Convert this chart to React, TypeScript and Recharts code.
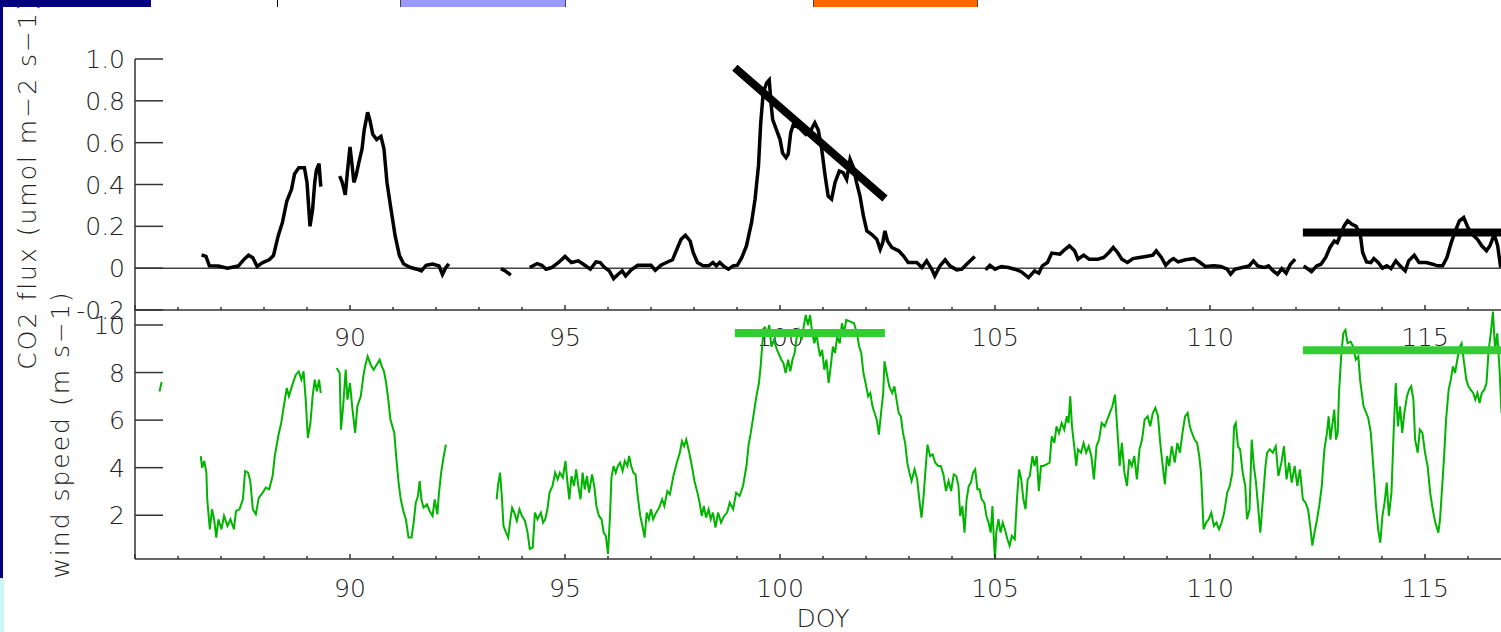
import { LineChart, Line, XAxis, YAxis, ReferenceLine, Label } from "recharts";

// CO2 flux (umol m-2 s-1) vs DOY, null = data gap
const co2Doy = [
  86.55, 86.65, 86.73, 86.94, 87.15, 87.4, 87.54, 87.64, 87.74, 87.84, 87.97, 88.12, 88.22, 88.33,
  88.43, 88.53, 88.64, 88.71, 88.81, 88.94, 89.0, 89.07, 89.13, 89.18, 89.22, 89.28, 89.32,
  89.5,
  89.76, 89.82, 89.89, 89.94, 90.0, 90.05, 90.09, 90.14, 90.2, 90.28, 90.33, 90.41, 90.46, 90.53,
  90.62, 90.72, 90.79, 90.86, 90.94, 91.05, 91.15, 91.25, 91.41, 91.56, 91.66, 91.77, 91.92, 92.07,
  92.15, 92.23, 92.3,
  93.0,
  93.51, 93.61, 93.74,
  94.0,
  94.18, 94.28, 94.35, 94.46, 94.56, 94.69, 94.85, 95.0, 95.15, 95.31, 95.46, 95.59, 95.72, 95.82,
  95.92, 96.03, 96.13, 96.23, 96.33, 96.41, 96.54, 96.69, 96.85, 97.0, 97.1, 97.23, 97.36, 97.5,
  97.6, 97.7, 97.8, 97.91, 97.98, 98.08, 98.21, 98.34, 98.44, 98.52, 98.6, 98.7, 98.8, 98.91,
  99.01, 99.11, 99.22, 99.34, 99.42, 99.5, 99.55, 99.61, 99.69, 99.75, 99.79, 99.83, 99.92, 100.0,
  100.06, 100.14, 100.19, 100.25, 100.31, 100.45, 100.6, 100.72, 100.81, 100.89, 100.97, 101.05,
  101.12, 101.2, 101.28, 101.38, 101.47, 101.55, 101.63, 101.71, 101.78, 101.86, 101.94, 102.02,
  102.13, 102.25, 102.33, 102.39, 102.44, 102.5, 102.6, 102.76, 102.87, 102.98, 103.18, 103.3,
  103.41, 103.53, 103.6, 103.72, 103.84, 103.95, 104.11, 104.23, 104.34, 104.53,
  104.65,
  104.78, 104.88, 105.0, 105.15, 105.31, 105.46, 105.61, 105.78, 105.92, 106.02, 106.1, 106.22,
  106.32, 106.51, 106.63, 106.73, 106.85, 106.93, 107.06, 107.19, 107.39, 107.53, 107.65, 107.75,
  107.85, 107.95, 108.08, 108.21, 108.36, 108.51, 108.67, 108.75, 108.87, 108.97, 109.07, 109.15,
  109.26, 109.43, 109.63, 109.77, 109.89, 110.09, 110.25, 110.4, 110.48, 110.58, 110.75, 110.91,
  111.01, 111.11, 111.26, 111.36, 111.47, 111.57, 111.67, 111.77, 111.87, 111.98,
  112.08,
  112.18, 112.28, 112.36, 112.48, 112.58, 112.69, 112.79, 112.89, 112.96, 113.04, 113.12, 113.2,
  113.3, 113.4, 113.5, 113.55, 113.64, 113.74, 113.81, 113.91, 114.01, 114.11, 114.21, 114.32,
  114.42, 114.54, 114.62, 114.75, 114.86, 115.03, 115.18, 115.29, 115.41, 115.51, 115.61, 115.72,
  115.8, 115.9, 116.0, 116.1, 116.22, 116.32, 116.43, 116.51, 116.61, 116.69, 116.76,
];
const co2Flux = [
  0.064, 0.056, 0.011, 0.01, 0.0, 0.01, 0.043, 0.062, 0.05, 0.008, 0.027, 0.04, 0.06, 0.154,
  0.22, 0.32, 0.377, 0.45, 0.48, 0.48, 0.41, 0.2, 0.28, 0.41, 0.47, 0.5, 0.39,
  null,
  0.44, 0.41, 0.35, 0.46, 0.58, 0.49, 0.41, 0.44, 0.5, 0.57, 0.66, 0.745, 0.71, 0.64,
  0.615, 0.63, 0.57, 0.41, 0.3, 0.154, 0.06, 0.02, 0.003, -0.005, -0.013, 0.014, 0.02, 0.011,
  -0.03, 0.003, 0.02,
  null,
  -0.002, -0.013, -0.033,
  null,
  0.003, 0.014, 0.022, 0.014, -0.005, 0.003, 0.027, 0.056, 0.027, 0.035, 0.014, -0.005, 0.03, 0.027,
  0.003, -0.013, -0.05, -0.03, -0.013, -0.037, -0.008, 0.014, 0.014, 0.014, -0.01, 0.014, 0.027, 0.04,
  0.09, 0.138, 0.157, 0.13, 0.075, 0.027, 0.011, 0.011, 0.027, 0.011, 0.027, 0.008, -0.005, 0.011,
  0.014, 0.05, 0.106, 0.22, 0.33, 0.49, 0.69, 0.84, 0.886, 0.9, 0.79, 0.71, 0.66, 0.616,
  0.55, 0.528, 0.545, 0.648, 0.687, 0.67, 0.64, 0.66, 0.695, 0.66, 0.57, 0.44,
  0.345, 0.33, 0.41, 0.464, 0.457, 0.425, 0.52, 0.48, 0.41, 0.345, 0.25, 0.178,
  0.162, 0.138, 0.09, 0.123, 0.178, 0.13, 0.099, 0.083, 0.059, 0.027, 0.027, 0.003,
  0.035, -0.005, -0.037, 0.011, 0.04, 0.011, -0.008, -0.005, 0.019, 0.056,
  null,
  -0.008, 0.014, -0.005, 0.008, 0.003, -0.005, -0.017, -0.045, -0.013, -0.024, 0.011, 0.027,
  0.072, 0.067, 0.09, 0.107, 0.083, 0.043, 0.062, 0.043, 0.043, 0.051, 0.075, 0.099,
  0.075, 0.043, 0.027, 0.046, 0.051, 0.056, 0.062, 0.083, 0.051, 0.014, 0.035, 0.046,
  0.03, 0.04, 0.046, 0.027, 0.008, 0.011, 0.008, -0.005, -0.029, -0.005, 0.003, 0.011,
  0.035, 0.011, 0.003, 0.011, -0.013, -0.029, -0.002, -0.024, 0.019, 0.043,
  null,
  0.011, -0.005, -0.017, 0.011, 0.019, 0.051, 0.099, 0.13, 0.122, 0.162, 0.202, 0.226,
  0.21, 0.2, 0.154, 0.075, 0.03, 0.027, 0.046, 0.027, 0.0, 0.011, -0.002, 0.035,
  0.011, -0.013, 0.035, 0.062, 0.027, 0.027, 0.019, 0.011, 0.011, 0.051, 0.122, 0.186,
  0.226, 0.242, 0.194, 0.162, 0.138, 0.107, 0.083, 0.107, 0.162, 0.107, 0.003,
];

// wind speed (m s-1) vs DOY, null = data gap
const windDoy = [
  85.57, 85.62,
  86.0,
  86.53, 86.56, 86.61, 86.66, 86.68, 86.74, 86.79, 86.84, 86.89, 86.94, 87.01, 87.07, 87.15, 87.22,
  87.3, 87.35, 87.43, 87.51, 87.56, 87.63, 87.68, 87.74, 87.81, 87.88, 87.97, 88.04, 88.12, 88.2,
  88.25, 88.33, 88.4, 88.46, 88.53, 88.58, 88.66, 88.74, 88.81, 88.87, 88.92, 88.97, 89.02, 89.08,
  89.13, 89.18, 89.23, 89.28, 89.32,
  89.5,
  89.69, 89.76, 89.79, 89.84, 89.9, 89.94, 90.0, 90.05, 90.12, 90.17, 90.25, 90.31, 90.35, 90.41,
  90.48, 90.55, 90.62, 90.69, 90.74, 90.79, 90.84, 90.89, 90.94, 91.03, 91.08, 91.13, 91.18, 91.25,
  91.3, 91.36, 91.43, 91.48, 91.53, 91.58, 91.62, 91.66, 91.71, 91.79, 91.85, 91.92, 91.97, 92.03,
  92.07, 92.12, 92.18, 92.23,
  92.8,
  93.41, 93.44, 93.49, 93.53, 93.57, 93.63, 93.68, 93.72, 93.77, 93.82, 93.88, 93.94, 94.0, 94.07,
  94.13, 94.18, 94.25, 94.3, 94.36, 94.44, 94.49, 94.54, 94.59, 94.64, 94.71, 94.77, 94.83, 94.88,
  94.95, 95.01, 95.05, 95.1, 95.15, 95.21, 95.26, 95.31, 95.36, 95.41, 95.46, 95.51, 95.56, 95.63,
  95.68, 95.73, 95.79, 95.85, 95.9, 95.95, 96.0, 96.05, 96.08, 96.13, 96.18, 96.23, 96.28, 96.34,
  96.39, 96.45, 96.49, 96.54, 96.59, 96.64, 96.69, 96.75, 96.8, 96.85, 96.9, 96.95, 97.0, 97.05,
  97.1, 97.19, 97.26, 97.31, 97.38, 97.44, 97.52, 97.6, 97.67, 97.72, 97.77, 97.82, 97.89, 97.95,
  98.01, 98.08, 98.13, 98.18, 98.23, 98.28, 98.34, 98.39, 98.44, 98.5, 98.56, 98.63, 98.7, 98.77,
  98.83, 98.91, 98.98, 99.06, 99.14, 99.22, 99.27, 99.32, 99.38, 99.45, 99.51, 99.55, 99.59, 99.64,
  99.7, 99.75, 99.8, 99.86, 99.93, 99.98, 100.03, 100.08, 100.13, 100.19, 100.24, 100.29, 100.34,
  100.39, 100.44, 100.5, 100.55, 100.6, 100.65, 100.7, 100.75, 100.8, 100.85,
  100.88, 100.93, 100.98, 101.03, 101.08, 101.13, 101.18, 101.23, 101.28, 101.33, 101.39, 101.44,
  101.49, 101.54, 101.64, 101.72, 101.79, 101.84, 101.89, 101.94, 101.99, 102.05, 102.1, 102.15,
  102.2, 102.25, 102.3, 102.35, 102.4, 102.43, 102.48, 102.54, 102.61, 102.66, 102.71, 102.76,
  102.81, 102.86, 102.91, 102.96, 103.01, 103.06, 103.13, 103.19, 103.24, 103.29, 103.34, 103.39,
  103.43, 103.49, 103.55, 103.61, 103.68, 103.74, 103.8, 103.86, 103.92, 103.98, 104.04, 104.1,
  104.15, 104.19, 104.24, 104.29, 104.34, 104.39, 104.44, 104.49, 104.54, 104.59, 104.64, 104.69,
  104.75, 104.8, 104.85, 104.9, 104.94, 104.98, 105.0, 105.03, 105.08, 105.13, 105.18, 105.23,
  105.29, 105.34, 105.39, 105.46, 105.51, 105.56, 105.61, 105.66, 105.71, 105.76, 105.81, 105.87,
  105.92, 105.97, 106.02, 106.07, 106.12, 106.2, 106.27, 106.32, 106.38, 106.43, 106.49, 106.55,
  106.61, 106.67, 106.71, 106.75, 106.79, 106.85, 106.89, 106.93, 107.0, 107.06, 107.12, 107.18,
  107.24, 107.3, 107.36, 107.42, 107.48, 107.55, 107.61, 107.67, 107.73, 107.79, 107.85, 107.9,
  107.95, 108.01, 108.07, 108.12, 108.18, 108.24, 108.3, 108.36, 108.42, 108.48, 108.55, 108.61,
  108.67, 108.73, 108.79, 108.85, 108.91, 108.95, 109.0, 109.05, 109.11, 109.18, 109.24, 109.3,
  109.36, 109.42, 109.48, 109.53, 109.58, 109.64, 109.7, 109.75, 109.79, 109.82, 109.85, 109.91,
  109.97, 110.03, 110.09, 110.15, 110.21, 110.27, 110.33, 110.4, 110.46, 110.52, 110.56, 110.6,
  110.65, 110.7, 110.76, 110.82, 110.86, 110.92, 110.97, 111.02, 111.07, 111.13, 111.17, 111.23,
  111.29, 111.33, 111.39, 111.46, 111.53, 111.59, 111.66, 111.72, 111.78, 111.84, 111.9, 111.97,
  112.03, 112.09, 112.16, 112.22, 112.28, 112.33, 112.38, 112.43, 112.49, 112.54, 112.6, 112.66,
  112.72, 112.76, 112.8, 112.84, 112.89, 112.93, 112.97, 113.0, 113.05, 113.1, 113.15, 113.2,
  113.27, 113.33, 113.39, 113.45, 113.49, 113.53, 113.57, 113.68, 113.74, 113.78, 113.82, 113.86,
  113.91, 113.96, 114.01, 114.06, 114.11, 114.16, 114.22, 114.27, 114.32, 114.37, 114.42, 114.47,
  114.52, 114.58, 114.63, 114.68, 114.73, 114.77, 114.83, 114.88, 114.94, 115.0, 115.06, 115.12,
  115.18, 115.24, 115.31, 115.35, 115.39, 115.44, 115.49, 115.55, 115.6, 115.65, 115.7, 115.75,
  115.81, 115.85, 115.91, 115.96, 116.01, 116.06, 116.12, 116.17, 116.22, 116.27, 116.32, 116.38,
  116.43, 116.48, 116.53, 116.58, 116.63, 116.68, 116.73, 116.78,
];
const windSpeed = [
  7.2, 7.6,
  null,
  4.49, 4.0, 4.28, 3.79, 2.67, 1.41, 2.25, 1.83, 1.06, 1.83, 1.41, 1.97, 1.55, 1.83,
  1.41, 2.18, 2.25, 2.67, 3.86, 3.79, 3.44, 2.25, 2.04, 2.74, 2.95, 3.16, 3.09, 3.65,
  4.49, 5.32, 5.88, 6.58, 7.35, 7.0, 7.49, 7.91, 8.05, 7.7, 8.05, 6.86, 5.25, 5.88,
  7.0, 7.7, 7.21, 7.7, 7.14,
  null,
  8.19, 7.98, 5.6, 6.58, 8.12, 6.86, 7.56, 6.58, 5.46, 6.58, 7.0, 7.84, 8.26, 8.68,
  8.33, 8.12, 8.33, 8.54, 8.26, 8.05, 7.56, 6.86, 6.02, 5.46, 4.35, 3.37, 2.67, 2.11,
  1.83, 1.06, 1.06, 1.69, 2.53, 2.81, 3.44, 2.67, 2.32, 2.46, 2.18, 1.97, 2.67, 2.04,
  2.95, 3.79, 4.49, 4.97,
  null,
  2.67, 3.23, 3.79, 2.81, 1.55, 1.27, 1.06, 1.69, 2.32, 2.11, 1.76, 2.25, 1.97, 1.76,
  1.27, 0.58, 0.65, 2.11, 1.83, 2.11, 1.69, 1.83, 2.25, 2.95, 3.23, 3.79, 3.51, 3.79,
  3.58, 4.28, 3.51, 2.67, 3.65, 3.23, 3.93, 3.23, 2.67, 3.79, 3.09, 3.65, 2.95, 3.72,
  3.23, 2.39, 1.97, 1.83, 1.27, 1.13, 0.37, 2.11, 3.58, 4.07, 3.79, 4.07, 4.21, 3.86,
  4.28, 4.07, 4.49, 4.07, 3.79, 3.72, 2.81, 1.97, 1.55, 1.06, 2.11, 1.83, 2.25, 1.83,
  2.04, 2.32, 2.67, 2.39, 3.02, 2.88, 3.65, 4.21, 4.63, 5.11, 4.9, 5.18, 4.63, 4.07,
  3.44, 2.95, 2.53, 1.97, 2.39, 1.9, 2.25, 1.83, 2.11, 1.48, 2.11, 1.69, 1.97, 2.11,
  2.53, 2.25, 2.95, 2.81, 3.23, 4.07, 4.97, 5.46, 6.16, 7.0, 7.56, 8.26, 9.23, 9.93,
  9.65, 10.0, 9.09, 9.37, 8.95, 8.75, 8.54, 8.4, 7.98, 8.54, 8.05, 8.54, 8.82,
  9.51, 9.79, 9.37, 9.93, 10.42, 10.0, 10.42, 9.65, 9.23, 9.65,
  9.23, 8.68, 8.95, 8.12, 8.54, 7.56, 8.26, 9.09, 8.82, 9.51, 9.23, 10.07,
  9.65, 10.21, 10.14, 10.07, 9.65, 9.09, 8.82, 7.98, 7.56, 7.0, 7.14, 6.58,
  6.3, 6.02, 5.39, 6.3, 7.14, 8.47, 7.98, 7.42, 7.14, 7.42, 6.86, 6.3,
  6.16, 5.46, 5.04, 4.21, 3.79, 3.44, 3.93, 3.51, 2.67, 1.9, 2.81, 4.07,
  4.97, 4.49, 4.56, 4.21, 4.07, 4.07, 3.72, 3.02, 3.44, 3.02, 3.72, 3.65,
  3.23, 1.97, 2.39, 1.27, 2.67, 3.23, 3.37, 3.79, 3.93, 3.09, 3.09, 2.67,
  2.53, 1.97, 1.69, 1.27, 2.39, 0.72, 0.16, 1.27, 1.83, 1.27, 1.69, 1.41,
  0.99, 0.72, 1.13, 0.99, 2.67, 3.93, 3.51, 2.67, 2.25, 3.51, 3.65, 4.49,
  4.07, 4.49, 3.02, 4.07, 4.07, 4.14, 4.21, 5.32, 5.04, 5.74, 5.46, 5.88,
  5.6, 6.16, 5.88, 7.0, 5.74, 4.77, 4.07, 4.77, 4.63, 5.04, 4.63, 4.9,
  4.49, 3.51, 4.9, 5.18, 5.88, 5.74, 6.02, 6.3, 6.58, 7.07, 5.46, 4.07,
  5.04, 3.79, 3.23, 4.35, 4.07, 4.49, 3.51, 4.77, 5.18, 6.02, 6.16, 5.74,
  6.3, 6.51, 6.16, 4.9, 3.93, 3.3, 4.49, 4.07, 4.9, 4.21, 5.04, 4.63,
  5.46, 6.16, 6.3, 5.74, 5.46, 5.18, 5.04, 4.49, 3.79, 2.67, 1.41, 1.69,
  1.83, 2.11, 1.55, 1.69, 1.41, 1.69, 2.11, 2.95, 3.23, 3.79, 5.74, 5.88,
  4.9, 4.77, 3.79, 3.23, 1.83, 2.25, 5.18, 4.07, 3.37, 2.11, 1.27, 2.67,
  4.07, 4.63, 4.77, 4.63, 4.9, 3.65, 4.21, 4.9, 3.51, 4.21, 3.37, 4.07,
  3.23, 3.93, 2.67, 2.53, 2.25, 1.55, 0.72, 1.27, 1.83, 2.39, 3.23, 4.77,
  5.46, 6.16, 5.18, 5.74, 6.44, 5.18, 5.46, 7.14, 8.68, 9.65, 9.79, 9.23,
  9.3, 9.09, 8.54, 8.68, 7.7, 7.14, 6.58, 6.09, 5.46, 4.49, 3.51, 2.39,
  1.41, 0.85, 1.97, 2.53, 3.37, 1.97, 2.95, 5.46, 7.56, 5.74, 6.58, 5.46,
  6.3, 7.0, 7.28, 7.42, 6.86, 5.18, 4.63, 5.6, 5.46, 4.63, 4.07, 2.95,
  2.25, 1.69, 1.27, 1.83, 2.95, 4.35, 6.02, 7.28, 7.7, 8.26, 7.98, 8.54,
  9.09, 9.23, 8.4, 7.7, 7.42, 7.28, 7.14, 6.86, 7.14, 6.72, 7.14, 7.28,
  7.56, 8.95, 9.65, 10.56, 8.95, 9.65, 8.26, 6.3,
];

const doyTicks = [
  85, 86, 87, 88, 89, 90, 91, 92, 93, 94, 95, 96, 97, 98, 99, 100, 101,
  102, 103, 104, 105, 106, 107, 108, 109, 110, 111, 112, 113, 114, 115, 116, 117,
];
const doyLabels = [90, 95, 100, 105, 110, 115];
const co2Ticks = [-0.2, 0, 0.2, 0.4, 0.6, 0.8, 1.0];
const co2TickLabels = ["-0.2", "0", "0.2", "0.4", "0.6", "0.8", "1.0"];
const windTicks = [2, 4, 6, 8, 10];

// hand-drawn marks on the slide
const co2Trend = [{ doy: 98.95, flux: 0.958 }, { doy: 102.44, flux: 0.333 }];
const co2Level = [{ doy: 112.16, flux: 0.17 }, { doy: 117, flux: 0.17 }];
const windHigh1 = [{ doy: 98.95, speed: 9.66 }, { doy: 102.44, speed: 9.66 }];
const windHigh2 = [{ doy: 112.16, speed: 8.94 }, { doy: 117, speed: 8.94 }];

const co2Data = co2Doy.map((doy, i) => ({ doy, flux: co2Flux[i] }));
const windData = windDoy.map((doy, i) => ({ doy, speed: windSpeed[i] }));

const FONT = "'DejaVu Sans', sans-serif";
const INK = "#222";
const AXIS = { stroke: "#333", strokeWidth: 1.5 };

const doyTick = (labelDy: number) => (props: any) => {
  const { x, y, payload } = props;
  const major = payload.value % 5 === 0;
  return (
    <g>
      <line x1={x} y1={y} x2={x} y2={y - (major ? 5 : 3)} stroke="#333" strokeWidth={1.5} />
      {doyLabels.includes(payload.value) && (
        <text x={x} y={y + labelDy} textAnchor="middle" fontSize={25} fontFamily={FONT} fontWeight={200} fill={INK}>
          {payload.value}
        </text>
      )}
    </g>
  );
};

const leftTick = (labels?: string[], ticks?: number[]) => (props: any) => {
  const { x, y, payload } = props;
  const text = labels && ticks ? labels[ticks.indexOf(payload.value)] : String(payload.value);
  return (
    <g>
      <line x1={x} y1={y} x2={x + 28} y2={y} stroke="#333" strokeWidth={1.5} />
      <text x={x - 10} y={y + 9} textAnchor="end" fontSize={25} fontFamily={FONT} fontWeight={200} fill={INK}>
        {text}
      </text>
    </g>
  );
};

const rightTick = (props: any) => {
  const { x, y } = props;
  return <line x1={x} y1={y} x2={x - 28} y2={y} stroke="#333" strokeWidth={1.5} />;
};

const yTitle = (text: string, dx: number) => (props: any) => {
  const { viewBox } = props;
  const cx = viewBox.x + dx;
  const cy = viewBox.y + viewBox.height / 2;
  return (
    <text
      x={cx}
      y={cy}
      transform={`rotate(-90 ${cx} ${cy})`}
      textAnchor="middle"
      dominantBaseline="central"
      fontSize={25}
      fontFamily={FONT}
      fontWeight={200}
      letterSpacing={2}
      fill={INK}
    >
      {text}
    </text>
  );
};

const doyTitle = (props: any) => {
  const { viewBox } = props;
  return (
    <text x={viewBox.x + viewBox.width / 2} y={viewBox.y + 68} textAnchor="middle" fontSize={25} fontFamily={FONT} fontWeight={200} fill={INK}>
      DOY
    </text>
  );
};

const box = (left: number, width: number, bg: string, extra = {}) => (
  <div style={{ position: "absolute", left, top: 0, width, height: 7, background: bg, boxSizing: "border-box", ...extra }} />
);

export default function App() {
  return (
    <div style={{ position: "fixed", left: 0, top: 0, width: 1501, height: 632, overflow: "hidden", background: "#fff" }}>
      <div style={{ position: "absolute", left: 0, top: 0 }}>
        <LineChart width={1530} height={420} data={co2Data} margin={{ top: 59, right: 9, bottom: 0, left: 35 }}>
          <XAxis
            dataKey="doy"
            type="number"
            domain={[85, 117]}
            ticks={doyTicks}
            interval={0}
            tickSize={0}
            tickMargin={0}
            height={110}
            axisLine={AXIS}
            tick={doyTick(36)}
          />
          <YAxis
            yAxisId="left"
            type="number"
            domain={[-0.2, 1]}
            ticks={co2Ticks}
            interval={0}
            tickSize={0}
            tickMargin={0}
            width={100}
            axisLine={AXIS}
            tick={leftTick(co2TickLabels, co2Ticks)}
          >
            <Label content={yTitle("CO2 flux (umol m\u22122 s\u22121)", -8)} />
          </YAxis>
          <YAxis
            yAxisId="right"
            orientation="right"
            type="number"
            domain={[-0.2, 1]}
            ticks={co2Ticks}
            interval={0}
            tickSize={0}
            tickMargin={0}
            width={10}
            axisLine={AXIS}
            tick={rightTick}
          />
          <ReferenceLine yAxisId="left" y={0} stroke="#444" strokeWidth={1.5} />
          <Line
            yAxisId="left"
            type="linear"
            dataKey="flux"
            stroke="#000"
            strokeWidth={3.5}
            dot={false}
            connectNulls={false}
            isAnimationActive={false}
          />
          <ReferenceLine
            yAxisId="left"
            segment={co2Trend.map((p) => ({ x: p.doy, y: p.flux }))}
            stroke="#000"
            strokeWidth={8}
          />
          <ReferenceLine
            yAxisId="left"
            segment={co2Level.map((p) => ({ x: p.doy, y: p.flux }))}
            stroke="#000"
            strokeWidth={8}
          />
        </LineChart>
      </div>
      <div style={{ position: "absolute", left: 0, top: 0 }}>
        <LineChart width={1530} height={632} data={windData} margin={{ top: 310, right: 9, bottom: 0, left: 35 }}>
          <XAxis
            dataKey="doy"
            type="number"
            domain={[85, 117]}
            ticks={doyTicks}
            interval={0}
            tickSize={0}
            tickMargin={0}
            height={73}
            axisLine={AXIS}
            tick={doyTick(38)}
          >
            <Label content={doyTitle} />
          </XAxis>
          <YAxis
            yAxisId="left"
            type="number"
            domain={[0.2, 10.63]}
            ticks={windTicks}
            interval={0}
            tickSize={0}
            tickMargin={0}
            width={100}
            axisLine={AXIS}
            tick={leftTick()}
          >
            <Label content={yTitle("wind speed (m s\u22121)", 25)} />
          </YAxis>
          <YAxis
            yAxisId="right"
            orientation="right"
            type="number"
            domain={[0.2, 10.63]}
            ticks={windTicks}
            interval={0}
            tickSize={0}
            tickMargin={0}
            width={10}
            axisLine={AXIS}
            tick={rightTick}
          />
          <Line
            yAxisId="left"
            type="linear"
            dataKey="speed"
            stroke="#00b400"
            strokeWidth={2}
            dot={false}
            connectNulls={false}
            isAnimationActive={false}
          />
          <ReferenceLine
            yAxisId="left"
            segment={windHigh1.map((p) => ({ x: p.doy, y: p.speed }))}
            stroke="#33cc33"
            strokeWidth={8}
          />
          <ReferenceLine
            yAxisId="left"
            segment={windHigh2.map((p) => ({ x: p.doy, y: p.speed }))}
            stroke="#33cc33"
            strokeWidth={8}
          />
        </LineChart>
      </div>
      {box(0, 151, "#000080")}
      {box(277, 1, "#000")}
      {box(400, 166, "#9999ff", { borderLeft: "1px solid #444", borderRight: "1px solid #444" })}
      {box(813, 165, "#ff6600", { borderLeft: "1px solid #444", borderRight: "1px solid #444" })}
      <div style={{ position: "absolute", left: 0, top: 0, width: 3, height: 578, background: "#000080" }} />
      <div style={{ position: "absolute", left: 0, top: 578, width: 4, height: 54, background: "#ccf5f8" }} />
    </div>
  );
}
